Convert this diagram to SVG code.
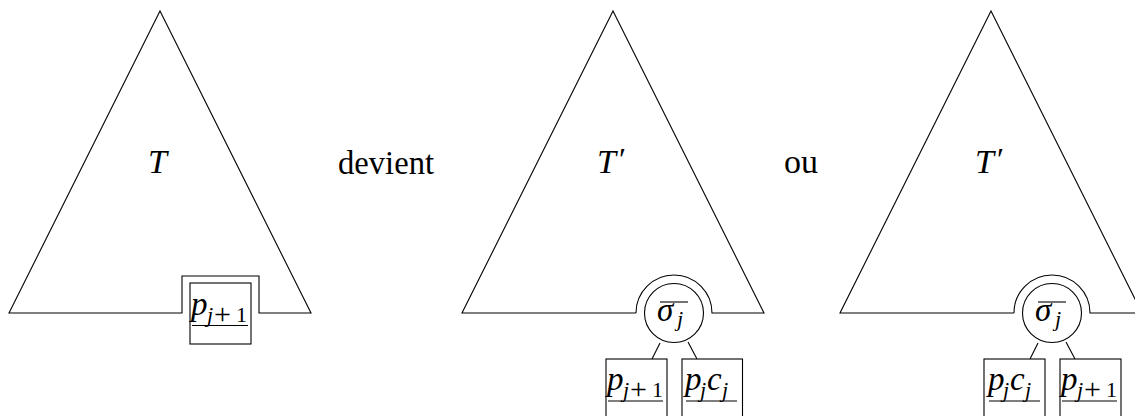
<svg xmlns="http://www.w3.org/2000/svg" width="1135" height="416" viewBox="0 0 1135 416">
<style>
.ln{fill:none;stroke:#000;stroke-width:1.1}
.m{font-family:"Liberation Serif","DejaVu Serif",serif;font-style:italic;fill:#000}
.r{font-family:"Liberation Serif","DejaVu Serif",serif;fill:#000}
.b{font-size:33px}
.s{font-size:22px}
.pl{font-family:"Liberation Serif","DejaVu Serif",serif;font-size:30px;fill:#000}
.big{font-size:34px}
.pr{font-family:"Liberation Serif","DejaVu Serif",serif;font-size:32px;fill:#000}
</style>
<rect width="1135" height="416" fill="#fff"/>
<g id="tree1">
<path class="ln" d="M9,313 L160,11 L311,313 L259,313 L259,276 L182,276 L182,313 Z"/>
<text class="m big" x="148" y="173">T</text>
</g>
<g id="box1">
<rect class="ln" x="190" y="283" width="61" height="61"/>
<text class="m b" x="191" y="315">p</text>
<text class="m s" x="207" y="322">j</text>
<text class="pl" x="214" y="324">+</text>
<text class="r s" x="236" y="322">1</text>
<line class="ln" x1="192" y1="325.5" x2="248" y2="325.5"/>
</g>
<g id="label-devient">
<text class="r big" x="338" y="174" textLength="96" lengthAdjust="spacingAndGlyphs">devient</text>
</g>
<g id="tree2">
<path class="ln" d="M636,313 L462,313 L613,11 L764,313 L712,313 A38,38 0 0 0 636,313"/>
<text class="m big" x="597" y="173">T</text>
<text class="pr" x="619" y="170">′</text>
</g>
<g id="sigma2">
<circle class="ln" cx="674" cy="313" r="29.5"/>
<text class="m b" x="657" y="321">σ</text>
<text class="m s" x="677" y="326">j</text>
<line class="ln" x1="660" y1="302" x2="688" y2="302"/>
</g>
<g id="box2a">
<rect class="ln" x="606" y="359" width="61" height="70"/>
<text class="m b" x="607" y="390">p</text>
<text class="m s" x="623" y="397">j</text>
<text class="pl" x="630" y="399">+</text>
<text class="r s" x="652" y="397">1</text>
<line class="ln" x1="608" y1="401" x2="663" y2="401"/>
</g>
<g id="box2b">
<rect class="ln" x="682" y="359" width="60.5" height="70"/>
<text class="m b" x="685" y="390">p</text>
<text class="m s" x="700" y="397">j</text>
<text class="m b" x="707" y="390">c</text>
<text class="m s" x="722" y="397">j</text>
<line class="ln" x1="686" y1="401" x2="737" y2="401"/>
</g>
<g id="label-ou">
<text class="r big" x="784" y="173">ou</text>
</g>
<g id="tree3">
<path class="ln" d="M1014,313 L840,313 L991,11 L1142,313 L1090,313 A38,38 0 0 0 1014,313"/>
<text class="m big" x="975" y="173">T</text>
<text class="pr" x="997" y="170">′</text>
</g>
<g id="sigma3">
<circle class="ln" cx="1052" cy="313" r="29.5"/>
<text class="m b" x="1035" y="321">σ</text>
<text class="m s" x="1055" y="326">j</text>
<line class="ln" x1="1038" y1="302" x2="1066" y2="302"/>
</g>
<g id="box3a">
<rect class="ln" x="984" y="359" width="61" height="70"/>
<text class="m b" x="988" y="390">p</text>
<text class="m s" x="1003" y="397">j</text>
<text class="m b" x="1010" y="390">c</text>
<text class="m s" x="1025" y="397">j</text>
<line class="ln" x1="989" y1="401" x2="1040" y2="401"/>
</g>
<g id="box3b">
<rect class="ln" x="1060" y="359" width="61" height="70"/>
<text class="m b" x="1061" y="390">p</text>
<text class="m s" x="1077" y="397">j</text>
<text class="pl" x="1084" y="399">+</text>
<text class="r s" x="1106" y="397">1</text>
<line class="ln" x1="1062" y1="401" x2="1117" y2="401"/>
</g>
<g id="connectors">
<line class="ln" x1="660" y1="343" x2="652" y2="359"/>
<line class="ln" x1="688" y1="342" x2="697" y2="359"/>
<line class="ln" x1="1038" y1="343" x2="1030" y2="359"/>
<line class="ln" x1="1066" y1="342" x2="1075" y2="359"/>
</g>
</svg>
